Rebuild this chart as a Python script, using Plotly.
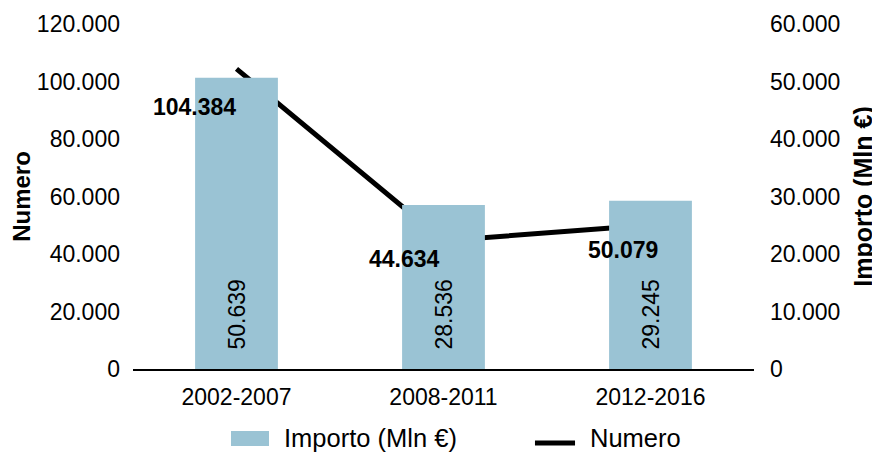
import plotly.graph_objects as go

categories = ["2002-2007", "2008-2011", "2012-2016"]
importo = [50639, 28536, 29245]
numero = [104384, 44634, 50079]
importo_labels = ["50.639", "28.536", "29.245"]
numero_labels = ["104.384", "44.634", "50.079"]
legend_names = ["Importo (Mln €)", "Numero"]

FONT = "Liberation Sans, Arial, sans-serif"
BAR_COLOR = "#9ac3d4"

fig = go.Figure()
fig.add_trace(go.Bar(
    x=categories, y=importo, name=legend_names[0], yaxis="y2", showlegend=False,
    marker=dict(color=BAR_COLOR, line=dict(width=0)), width=0.4,
))
fig.add_trace(go.Scatter(
    x=categories, y=numero, name=legend_names[1], yaxis="y", mode="lines",
    line=dict(color="black", width=5), showlegend=False,
))

# bar value labels, rotated, near the base of each bar
for c, t in zip(categories, importo_labels):
    fig.add_annotation(x=c, y=0, xref="x", yref="y2", text=t, textangle=-90,
                       showarrow=False, xanchor="center", yanchor="bottom", yshift=17,
                       font=dict(size=23, color="black", family=FONT))

# line value labels
shifts = [(-42, -38), (-39, -18), (-28, -25)]
for c, v, t, (dx, dy) in zip(categories, numero, numero_labels, shifts):
    fig.add_annotation(x=c, y=v, xref="x", yref="y", text="<b>%s</b>" % t,
                       showarrow=False, xshift=dx, yshift=dy,
                       font=dict(size=23, color="black", family=FONT))

# legend (drawn manually to match the wide swatches)
fig.add_shape(type="rect", xref="paper", yref="paper",
              x0=0.1578, x1=0.219, y0=-0.2232, y1=-0.1797,
              fillcolor=BAR_COLOR, line=dict(width=0))
fig.add_annotation(xref="paper", yref="paper", x=0.2399, y=-0.199,
                   xanchor="left", yanchor="middle", showarrow=False,
                   text=legend_names[0], font=dict(size=25.5, family=FONT, color="black"))
fig.add_shape(type="line", xref="paper", yref="paper",
              x0=0.6473, x1=0.7118, y0=-0.2145, y1=-0.2145,
              line=dict(color="black", width=5))
fig.add_annotation(xref="paper", yref="paper", x=0.7327, y=-0.199,
                   xanchor="left", yanchor="middle", showarrow=False,
                   text=legend_names[1], font=dict(size=25.5, family=FONT, color="black"))

fig.update_layout(
    width=872, height=444,
    margin=dict(l=125, r=126, t=16, b=83, autoexpand=False),
    paper_bgcolor="white", plot_bgcolor="white",
    separators=",.",
    font=dict(family=FONT, size=23, color="black"),
    showlegend=False,
    xaxis=dict(showline=True, linecolor="black", linewidth=2, showgrid=False,
               ticks="", tickfont=dict(size=23), automargin=False, ticklabelstandoff=6),
    yaxis=dict(range=[0, 120000], dtick=20000, tickformat=",d", showgrid=False,
               zeroline=False, showline=False, ticks="", ticklabelstandoff=12,
               automargin=False, tickfont=dict(size=23),
               title=dict(text="<b>Numero</b>", font=dict(size=24), standoff=2)),
    yaxis2=dict(range=[0, 60000], dtick=10000, tickformat=",d", showgrid=False,
                zeroline=False, showline=False, ticks="", overlaying="y", side="right",
                ticklabelstandoff=15, automargin=False, tickfont=dict(size=23),
                title=dict(text="<b>Importo (Mln €)</b>", font=dict(size=25), standoff=15)),
)

fig.write_html("out.html")
